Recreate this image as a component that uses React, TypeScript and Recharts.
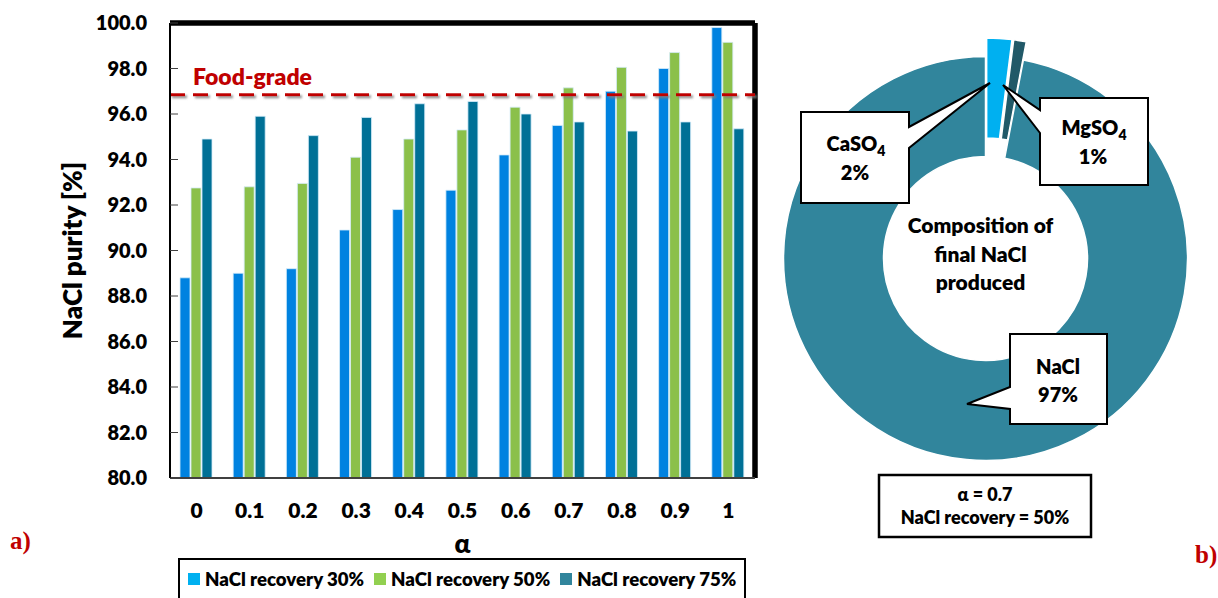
import React from 'react';
import {
  BarChart,
  Bar,
  XAxis,
  YAxis,
  ReferenceLine,
  Legend,
  Label,
  PieChart,
  Pie,
  Cell,
} from 'recharts';

// ---- Panel a): NaCl purity versus alpha ----
const alphaValues = ['0', '0.1', '0.2', '0.3', '0.4', '0.5', '0.6', '0.7', '0.8', '0.9', '1'];
const recovery30 = [88.8, 89.0, 89.2, 90.9, 91.8, 92.65, 94.2, 95.5, 97.0, 98.0, 99.8];
const recovery50 = [92.75, 92.8, 92.95, 94.1, 94.9, 95.3, 96.3, 97.15, 98.05, 98.7, 99.15];
const recovery75 = [94.9, 95.9, 95.05, 95.85, 96.45, 96.55, 96.0, 95.65, 95.25, 95.65, 95.35];
const seriesKeys = ['r30', 'r50', 'r75'];
const seriesNames = ['NaCl recovery 30%', 'NaCl recovery 50%', 'NaCl recovery 75%'];
const barColors = ['#0082E0', '#8BC04A', '#007096'];
const swatchColors = ['#00B0F0', '#92D050', '#31859C'];
const purityTicks = [80, 82, 84, 86, 88, 90, 92, 94, 96, 98, 100];
const purityDomain = [80, 100];
const foodGradePurity = 96.85;

// ---- Panel b): composition of the final NaCl ----
const compNames = ['CaSO4', 'MgSO4', 'NaCl'];
const compValues = [2, 1, 97];
const compColors = ['#00B0F0', '#215968', '#31859C'];
const compExplode = [18.5, 18.5, 0];
const selectedAlpha = '0.7';
const selectedRecovery = '50%';

const barData = alphaValues.map((a, i) => ({
  alpha: a,
  r30: recovery30[i],
  r50: recovery50[i],
  r75: recovery75[i],
}));

const compData = compNames.map((n, i) => ({ name: n, value: compValues[i] }));

const FONT = 'Lato, "Open Sans", sans-serif';
const W = 800;
const RED = '#C00000';

// pie centre inside its own chart box
const PIE_LEFT = 760;
const PIE_CX = 220.5;
const PIE_CY = 253.5;

// offsets that pull a slice out along its bisector
const compTotal = compValues.reduce((s, v) => s + v, 0);
const sliceOffsets = compValues.map((v, i) => {
  const before = compValues.slice(0, i).reduce((s, x) => s + x, 0);
  const mid = ((before + v / 2) / compTotal) * 2 * Math.PI;
  return { dx: compExplode[i] * Math.sin(mid), dy: -compExplode[i] * Math.cos(mid) };
});

const YTitle = (props: any) => {
  const vb = props.viewBox;
  const x = vb.x + 72;
  const y = vb.y + vb.height / 2;
  return (
    <text
      x={x}
      y={y}
      transform={`rotate(-90 ${x} ${y})`}
      textAnchor="middle"
      dominantBaseline="central"
      fontFamily={FONT}
      fontWeight={W}
      fontSize={26}
      fill="#000"
    >
      NaCl purity [%]
    </text>
  );
};

const XTitle = (props: any) => {
  const vb = props.viewBox;
  return (
    <text
      x={vb.x + vb.width / 2}
      y={vb.y + 65}
      textAnchor="middle"
      dominantBaseline="central"
      fontFamily={FONT}
      fontWeight={W}
      fontSize={26}
      fill="#000"
    >
      α
    </text>
  );
};

const FoodGradeTag = (props: any) => {
  const vb = props.viewBox;
  return (
    <text
      x={vb.x + 23}
      y={vb.y - 10}
      fontFamily={FONT}
      fontWeight={W}
      fontSize={23}
      fill={RED}
    >
      Food-grade
    </text>
  );
};

const LegendBox = (props: any) => {
  const payload = props.payload || [];
  return (
    <div
      style={{
        display: 'flex',
        alignItems: 'center',
        height: '100%',
        paddingLeft: 8,
        paddingBottom: 4,
        boxSizing: 'border-box',
        fontFamily: FONT,
        fontWeight: W,
        fontSize: 18.6,
        color: '#000',
        whiteSpace: 'nowrap',
      }}
    >
      {payload.map((entry: any, i: number) => (
        <span key={i} style={{ display: 'inline-flex', alignItems: 'center', marginRight: 10 }}>
          <span
            style={{
              display: 'inline-block',
              width: 12,
              height: 12,
              background: swatchColors[seriesKeys.indexOf(entry.dataKey)],
              marginRight: 5,
            }}
          />
          {entry.value}
        </span>
      ))}
    </div>
  );
};

function Formula({ name }: { name: string }) {
  const m = name.match(/^(.*?)(\d+)$/);
  if (!m) return <>{name}</>;
  return (
    <>
      {m[1]}
      <tspan fontSize={14} dy={5}>
        {m[2]}
      </tspan>
    </>
  );
}

const calloutText = {
  fontFamily: FONT,
  fontWeight: W,
  fontSize: 20,
  fill: '#000',
  textAnchor: 'middle' as const,
};

export default function App() {
  return (
    <div
      style={{
        position: 'absolute',
        left: 0,
        top: 0,
        width: 1218,
        height: 598,
        overflow: 'hidden',
        background: '#fff',
      }}
    >
      <svg width={0} height={0} style={{ position: 'absolute' }}>
        <defs>
          <filter
            id="dashShadow"
            filterUnits="userSpaceOnUse"
            x={0}
            y={0}
            width={800}
            height={300}
          >
            <feDropShadow dx={2} dy={2} stdDeviation={1.3} floodColor="#7f7f7f" floodOpacity={0.85} />
          </filter>
        </defs>
      </svg>

      <div style={{ position: 'absolute', left: 0, top: 0 }}>
        <BarChart
          width={770}
          height={598}
          data={barData}
          margin={{ top: 23, right: 15, bottom: 60, left: 0 }}
          barCategoryGap={10}
          barGap={1}
        >
          <XAxis
            dataKey="alpha"
            height={60}
            tickLine={false}
            tickSize={0}
            tickMargin={25}
            stroke="#404040"
            axisLine={{ stroke: '#404040', strokeWidth: 2 }}
            tick={{ fontFamily: FONT, fontWeight: W, fontSize: 21, fill: '#000' }}
          >
            <Label content={XTitle} />
          </XAxis>
          <YAxis
            width={170}
            domain={purityDomain}
            ticks={purityTicks}
            interval={0}
            tickFormatter={(v: number) => v.toFixed(1)}
            tickSize={-8}
            tickMargin={31}
            stroke="#000"
            tickLine={{ stroke: '#404040', strokeWidth: 1 }}
            axisLine={{ stroke: '#000', strokeWidth: 2 }}
            tick={{ fontFamily: FONT, fontWeight: W, fontSize: 20, fill: '#000' }}
          >
            <Label content={YTitle} />
          </YAxis>
          {seriesKeys.map((k, i) => (
            <Bar
              key={k}
              dataKey={k}
              name={seriesNames[i]}
              fill={barColors[i]}
              stroke="#d6ecfa"
              strokeWidth={0.8}
              isAnimationActive={false}
            />
          ))}
          {/* top and right edges of the plot frame (half the stroke falls inside the plot) */}
          <ReferenceLine y={purityDomain[1]} stroke="#000" strokeWidth={5.5} ifOverflow="visible" />
          <ReferenceLine
            x={alphaValues[alphaValues.length - 1]}
            position="end"
            stroke="#000"
            strokeWidth={5.5}
            ifOverflow="visible"
          />
          <ReferenceLine
            y={foodGradePurity}
            stroke={RED}
            strokeWidth={3}
            strokeDasharray="15 8"
            filter="url(#dashShadow)"
          >
            <Label content={FoodGradeTag} />
          </ReferenceLine>
          <Legend
            layout="horizontal"
            verticalAlign="middle"
            align="center"
            content={LegendBox}
            wrapperStyle={{
              position: 'absolute',
              left: 178,
              top: 558,
              width: 568,
              height: 46,
              border: '2px solid #000',
              boxSizing: 'border-box',
              background: '#fff',
            }}
          />
        </BarChart>
      </div>

      <div style={{ position: 'absolute', left: PIE_LEFT, top: 0 }}>
        <PieChart width={458} height={598}>
          {compData.map((_, k) => (
            <Pie
              key={k}
              data={compData}
              dataKey="value"
              nameKey="name"
              cx={PIE_CX + sliceOffsets[k].dx}
              cy={PIE_CY + sliceOffsets[k].dy}
              innerRadius={102}
              outerRadius={202}
              startAngle={90}
              endAngle={-270}
              isAnimationActive={false}
              stroke="none"
            >
              {compData.map((d, i) => (
                <Cell
                  key={d.name}
                  fill={i === k ? compColors[i] : 'transparent'}
                  stroke={i === k ? '#fff' : 'none'}
                  strokeWidth={1.5}
                />
              ))}
            </Pie>
          ))}
        </PieChart>
      </div>

      <svg
        width={1218}
        height={598}
        style={{ position: 'absolute', left: 0, top: 0, pointerEvents: 'none' }}
      >
        {/* centre caption */}
        <g fontFamily={FONT} fontWeight={W} fontSize={21} fill="#000" textAnchor="middle">
          <text x={980.5} y={233}>Composition of</text>
          <text x={980.5} y={262}>final NaCl</text>
          <text x={980.5} y={290}>produced</text>
        </g>

        {/* CaSO4 callout */}
        <path
          d="M801,112 H909 V127 L990,83 L909,148 V203 H801 Z"
          fill="#fff"
          stroke="#000"
          strokeWidth={2}
        />
        <text x={856} y={151} {...calloutText}>
          <Formula name={compNames[0]} />
        </text>
        <text x={855} y={180} {...calloutText}>{`${compValues[0]}%`}</text>

        {/* MgSO4 callout */}
        <path
          d="M1040,98 H1148 V185 H1040 V133 L1003,85 L1040,110 Z"
          fill="#fff"
          stroke="#000"
          strokeWidth={2}
        />
        <text x={1094} y={135} {...calloutText}>
          <Formula name={compNames[1]} />
        </text>
        <text x={1093} y={164} {...calloutText}>{`${compValues[1]}%`}</text>

        {/* NaCl callout */}
        <path
          d="M1010,334 H1107 V424 H1010 V409 L967,404 L1010,387 Z"
          fill="#fff"
          stroke="#000"
          strokeWidth={2}
        />
        <text x={1058} y={374} {...calloutText}>
          <Formula name={compNames[2]} />
        </text>
        <text x={1058} y={402} {...calloutText}>{`${compValues[2]}%`}</text>

        {/* operating point */}
        <rect x={879} y={475} width={212} height={62} fill="#fff" stroke="#000" strokeWidth={2.5} />
        <g fontFamily={FONT} fontWeight={W} fontSize={18} fill="#000" textAnchor="middle">
          <text x={985} y={501}>{`α = ${selectedAlpha}`}</text>
          <text x={985} y={524}>{`NaCl recovery = ${selectedRecovery}`}</text>
        </g>

        {/* panel letters */}
        <g fontFamily='"Liberation Serif", "Times New Roman", serif' fontWeight={700} fontSize={25} fill={RED}>
          <text x={10} y={549}>a)</text>
          <text x={1195} y={563}>b)</text>
        </g>
      </svg>
    </div>
  );
}
